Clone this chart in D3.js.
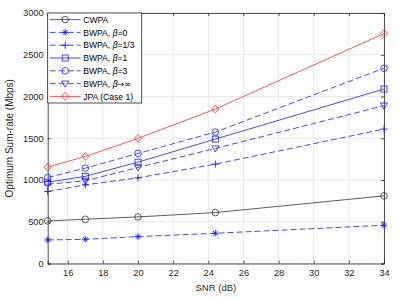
<!DOCTYPE html>
<html><head><meta charset="utf-8">
<script src="https://cdn.jsdelivr.net/npm/d3@7"></script>
<style>
body{margin:0;background:#fff;}
svg{display:block;font-family:"Liberation Sans",Arial,sans-serif;}
</style></head>
<body>
<svg id="c" width="399" height="299"></svg>
<script>
const snr = [14.86, 17, 20, 24.4, 34];
const xTicks = [16, 18, 20, 22, 24, 26, 28, 30, 32, 34];
const yTicks = [0, 500, 1000, 1500, 2000, 2500, 3000];
const cwpa   = [510, 530, 558, 610, 810];
const bw0    = [282, 290, 322, 362, 458];
const bw13   = [862, 942, 1026, 1190, 1610];
const bw1    = [974, 1044, 1214, 1490, 2090];
const bw3    = [1030, 1142, 1318, 1574, 2338];
const bwInf  = [950, 990, 1150, 1378, 1890];
const jpa    = [1154, 1282, 1498, 1850, 2754];
const labels = ["CWPA", "BWPA, β=0", "BWPA, β=1/3", "BWPA, β=1", "BWPA, β=3", "BWPA, β→∞", "JPA (Case 1)"];

const series = [
  {name: labels[0], v: cwpa, color: "#333333", dash: null, marker: "circle"},
  {name: labels[1], v: bw0, color: "#1a1aff", dash: "6,3", marker: "star"},
  {name: labels[2], v: bw13, color: "#1a1aff", dash: "6,3", marker: "plus"},
  {name: labels[3], v: bw1, color: "#1a1aff", dash: null, marker: "square"},
  {name: labels[4], v: bw3, color: "#1a1aff", dash: "6,3", marker: "circle"},
  {name: labels[5], v: bwInf, color: "#1a1aff", dash: "6,3", marker: "tri"},
  {name: labels[6], v: jpa, color: "#ff2a2a", dash: null, marker: "diamond"}
];

const L = 47.7, R = 384, T = 13, B = 263.5;
const x = d3.scaleLinear().domain([14.86, 34]).range([L, R]);
const y = d3.scaleLinear().domain([0, 3000]).range([B, T]);
const svg = d3.select("#c");

// grid
const g = svg.append("g");
g.selectAll(".gx").data(xTicks).enter().append("line")
  .attr("x1", d => x(d)).attr("x2", d => x(d)).attr("y1", T).attr("y2", B)
  .attr("stroke", "#e8e8e8").attr("stroke-width", 1);
g.selectAll(".gy").data(yTicks).enter().append("line")
  .attr("x1", L).attr("x2", R).attr("y1", d => y(d)).attr("y2", d => y(d))
  .attr("stroke", "#e8e8e8").attr("stroke-width", 1);

// axes
const fs = 9.3;
const ax = svg.append("g").attr("transform", `translate(0,${B})`)
  .call(d3.axisBottom(x).tickValues(xTicks).tickSize(-3).tickPadding(6).tickFormat(d3.format("d")));
const ay = svg.append("g").attr("transform", `translate(${L},0)`)
  .call(d3.axisLeft(y).tickValues(yTicks).tickSize(-3).tickPadding(4).tickFormat(d3.format("d")));
const axT = svg.append("g").attr("transform", `translate(0,${T})`)
  .call(d3.axisTop(x).tickValues(xTicks).tickSize(-3).tickFormat(""));
const ayR = svg.append("g").attr("transform", `translate(${R},0)`)
  .call(d3.axisRight(y).tickValues(yTicks).tickSize(-3).tickFormat(""));
[ax, ay, axT, ayR].forEach(a => {
  a.selectAll("path").attr("stroke", "#262626").attr("stroke-width", 0.8);
  a.selectAll("line").attr("stroke", "#262626").attr("stroke-width", 0.8);
  a.selectAll("text").attr("fill", "#262626").attr("font-size", fs)
    .attr("font-family", "Liberation Sans, Arial, sans-serif");
});

// markers
function drawMarker(sel, type, color, cx, cy) {
  const s = 3.3;
  if (type === "circle") {
    sel.append("circle").attr("cx", cx).attr("cy", cy).attr("r", s)
      .attr("fill", "none").attr("stroke", color).attr("stroke-width", 0.8);
  } else if (type === "square") {
    sel.append("rect").attr("x", cx - 3).attr("y", cy - 3).attr("width", 6).attr("height", 6)
      .attr("fill", "none").attr("stroke", color).attr("stroke-width", 0.8);
  } else if (type === "diamond") {
    sel.append("path").attr("d", `M${cx},${cy-4}L${cx+3.5},${cy}L${cx},${cy+4}L${cx-3.5},${cy}Z`)
      .attr("fill", "none").attr("stroke", color).attr("stroke-width", 0.8);
  } else if (type === "tri") {
    sel.append("path").attr("d", `M${cx-3.6},${cy-2.6}L${cx+3.6},${cy-2.6}L${cx},${cy+3.6}Z`)
      .attr("fill", "none").attr("stroke", color).attr("stroke-width", 0.8);
  } else if (type === "plus") {
    sel.append("path").attr("d", `M${cx-3.5},${cy}H${cx+3.5}M${cx},${cy-3.5}V${cy+3.5}`)
      .attr("stroke", color).attr("stroke-width", 0.9);
  } else if (type === "star") {
    sel.append("path").attr("d", `M${cx-3.3},${cy}H${cx+3.3}M${cx},${cy-3.3}V${cy+3.3}M${cx-2.4},${cy-2.4}L${cx+2.4},${cy+2.4}M${cx-2.4},${cy+2.4}L${cx+2.4},${cy-2.4}`)
      .attr("stroke", color).attr("stroke-width", 0.9);
  }
}

const line = d3.line().x((d, i) => x(snr[i])).y(d => y(d));
series.forEach(s => {
  const sg = svg.append("g");
  sg.append("path").attr("d", line(s.v)).attr("fill", "none")
    .attr("stroke", s.color).attr("stroke-width", 0.8)
    .attr("stroke-dasharray", s.dash);
  s.v.forEach((v, i) => drawMarker(sg, s.marker, s.color, x(snr[i]), y(v)));
});

// legend
const lg = svg.append("g");
const lx = L, ly = T, lw = 94, lh = 90;
lg.append("rect").attr("x", lx).attr("y", ly).attr("width", lw).attr("height", lh)
  .attr("fill", "#fff").attr("stroke", "#262626").attr("stroke-width", 0.8);
series.forEach((s, i) => {
  const yy = ly + 6.6 + i * 12.8;
  lg.append("line").attr("x1", lx + 2).attr("x2", lx + 33).attr("y1", yy).attr("y2", yy)
    .attr("stroke", s.color).attr("stroke-width", 0.8).attr("stroke-dasharray", s.dash);
  drawMarker(lg, s.marker, s.color, lx + 17.5, yy);
  const t = lg.append("text").attr("x", lx + 35.5).attr("y", yy + 3.2)
    .attr("font-size", 8.6).attr("fill", "#000");
  const parts = s.name.split("β");
  t.append("tspan").text(parts[0]);
  if (parts.length > 1) {
    t.append("tspan").attr("font-style", "italic").text("β");
    const rest = parts[1];
    if (rest.startsWith("→")) {
      t.append("tspan").attr("font-family", "DejaVu Sans").attr("font-size", 8).text(rest);
    } else {
      t.append("tspan").text(rest);
    }
  }
});

// axis titles
svg.append("text").attr("x", (L + R) / 2).attr("y", 291).attr("text-anchor", "middle")
  .attr("font-size", 9.5).attr("fill", "#262626").text("SNR (dB)");
svg.append("text").attr("transform", `translate(13,${(T + B) / 2}) rotate(-90)`)
  .attr("text-anchor", "middle").attr("font-size", 10).attr("fill", "#262626")
  .text("Optimum Sum-rate (Mbps)");
</script>
</body></html>
